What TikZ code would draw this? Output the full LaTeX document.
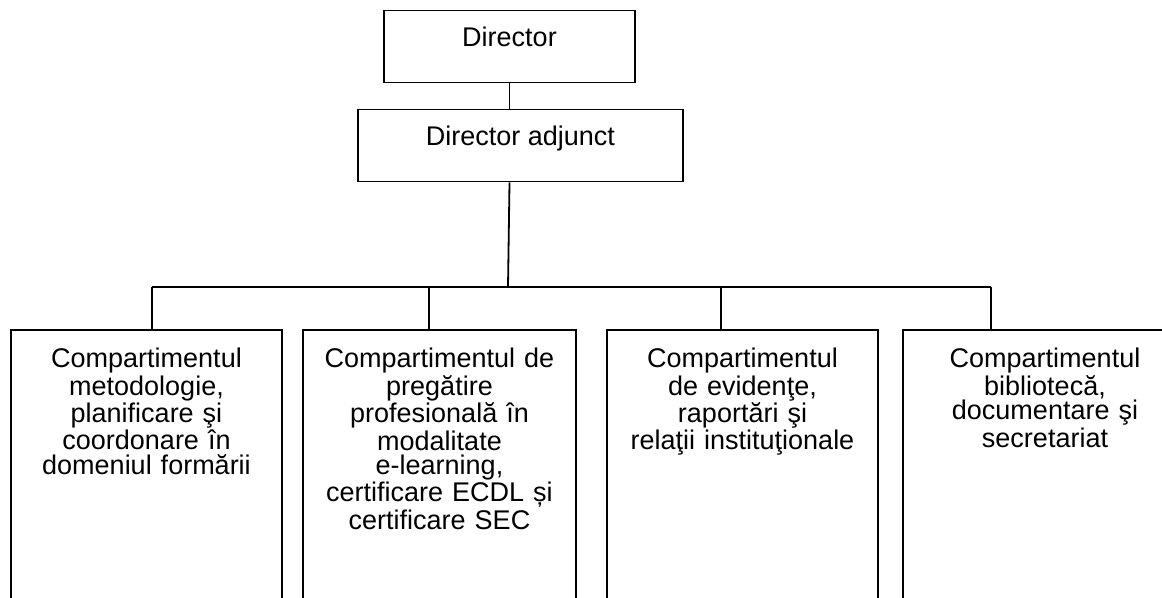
\documentclass[tikz,border=0pt]{standalone}
\usepackage{fontspec}
\setmainfont{Liberation Sans}
\begin{document}
\begin{tikzpicture}[x=0.5pt,y=-0.5pt,line width=0.9pt,
  head/.style={draw,inner xsep=0pt,inner ysep=0pt,minimum width=#1,text height=18pt,text depth=18pt,font=\fontsize{13.5pt}{12.25pt}\selectfont},
  dept/.style={draw,anchor=north,inner xsep=4pt,inner ysep=0pt,text width=#1,align=center,text height=19pt,text depth=130pt,font=\fontsize{13.5pt}{12.25pt}\selectfont}]

  \useasboundingbox (0,0) rectangle (1162,598);
  \clip (0,0) rectangle (1162,598);

  \node[head=125.5pt] (dir) at (509.5,46.5) {Director};
  \node[head=162.5pt] (adj) at (520.5,145.5) {Director adjunct};

  \node[dept=127.5pt] (d1) at (146.5,329) {Compartimentul\\ metodologie,\\ planificare şi\\ coordonare în\\ domeniul formării};
  \node[dept=128.5pt] (d2) at (439.5,329) {Compartimentul de\\ pregătire\\ profesională în\\ modalitate\\ e-learning,\\ certificare ECDL și\\ certificare SEC};
  \node[dept=127.5pt] (d3) at (742.5,329) {Compartimentul\\ de evidenţe,\\ raportări şi\\ relaţii instituţionale};
  \node[dept=134pt] (d4) at (1045,329) {Compartimentul\\ bibliotecă,\\ documentare şi\\ secretariat};

  \coordinate (bus) at (508,287);
  \coordinate (b1) at (152,287);
  \coordinate (b2) at (429,287);
  \coordinate (b3) at (721,287);
  \coordinate (b4) at (991,287);

  \draw (dir.south) -- (dir.south |- adj.north);
  \draw (dir.south |- adj.south) -- (bus);
  \draw (b1) -- (b4);
  \draw (b1) -- (b1 |- d1.north);
  \draw (b2) -- (b2 |- d2.north);
  \draw (b3) -- (b3 |- d3.north);
  \draw (b4) -- (b4 |- d4.north);
\end{tikzpicture}
\end{document}
